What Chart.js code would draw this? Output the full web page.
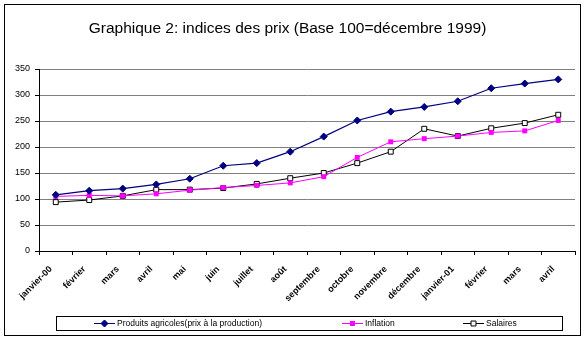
<!DOCTYPE html>
<html lang="fr">
<head>
<meta charset="utf-8">
<title>Graphique 2: indices des prix</title>
<script src="https://cdn.jsdelivr.net/npm/chart.js@4/dist/chart.umd.min.js"></script>
<style>
  html, body { margin: 0; padding: 0; background: #fff; }
  #wrap { width: 585px; height: 340px; }
</style>
</head>
<body>
<div id="wrap"><canvas id="c" width="585" height="340"></canvas></div>
<script>
// Mois (janvier 2000 à avril 2001)
const mois = ['janvier-00', 'février', 'mars', 'avril', 'mai', 'juin', 'juillet', 'août',
  'septembre', 'octobre', 'novembre', 'décembre', 'janvier-01', 'février', 'mars', 'avril'];

// Indices, base 100 = décembre 1999
const produitsAgricoles = [108, 116, 120, 128, 139, 164, 169, 191, 220, 251, 268, 277, 288, 313, 322, 330];
const inflation = [105, 107, 106, 110, 117, 122, 126, 131, 143, 180, 210, 216, 221, 228, 231, 251];
const salaires = [94, 98, 106, 118, 118, 121, 129, 140, 150, 169, 191, 235, 221, 236, 246, 262];

// Graduations de l'axe des valeurs
const yMin = 0, yMax = 350, yPas = 50;

const titre = 'Graphique 2: indices des prix (Base 100=décembre 1999)';
const police = "'Liberation Sans', Arial, sans-serif";

// Fond blanc, cadre extérieur et légende encadrée en bas
const cadrePlugin = {
  id: 'cadre',
  beforeDraw(chart) {
    const ctx = chart.ctx;
    ctx.save();
    ctx.fillStyle = '#fff';
    ctx.fillRect(0, 0, chart.width, chart.height);
    ctx.restore();
  },
  afterDraw(chart) {
    const ctx = chart.ctx;
    ctx.save();
    ctx.strokeStyle = '#000';
    ctx.lineWidth = 1;
    ctx.strokeRect(4.5, 4.5, chart.width - 9, chart.height - 9);

    // boîte de légende
    const bx = 56.5, by = 316.5, bw = 506, bh = 14;
    ctx.strokeRect(bx, by, bw, bh);
    const cy = by + bh / 2;
    const positions = [94, 342, 463];
    ctx.font = '8.5px ' + police;
    ctx.textBaseline = 'middle';
    ctx.textAlign = 'left';
    chart.data.datasets.forEach((ds, i) => {
      const x0 = positions[i], x1 = x0 + 21, xm = (x0 + x1) / 2;
      ctx.strokeStyle = ds.borderColor;
      ctx.lineWidth = 1;
      ctx.beginPath();
      ctx.moveTo(x0, cy);
      ctx.lineTo(x1, cy);
      ctx.stroke();
      const r = ds.pointRadius;
      ctx.fillStyle = ds.pointBackgroundColor;
      ctx.strokeStyle = ds.pointBorderColor;
      ctx.beginPath();
      if (ds.pointStyle === 'rectRot') {
        ctx.moveTo(xm - r, cy);
        ctx.lineTo(xm, cy - r);
        ctx.lineTo(xm + r, cy);
        ctx.lineTo(xm, cy + r);
        ctx.closePath();
      } else {
        const s = r * Math.SQRT1_2;
        ctx.rect(xm - s, cy - s, 2 * s, 2 * s);
      }
      ctx.fill();
      if (ds.pointBorderWidth > 0) ctx.stroke();
      ctx.fillStyle = '#000';
      ctx.fillText(ds.label, x1 + 2, cy + 0.5);
    });
    ctx.restore();
  }
};

new Chart(document.getElementById('c'), {
  type: 'line',
  data: {
    labels: mois,
    datasets: [
      {
        label: 'Produits agricoles(prix à la production)',
        data: produitsAgricoles,
        borderColor: '#000080',
        borderWidth: 1.2,
        pointStyle: 'rectRot',
        pointRadius: 3.5,
        pointBackgroundColor: '#000080',
        pointBorderColor: '#000080',
        pointBorderWidth: 1,
        tension: 0,
        fill: false
      },
      {
        label: 'Inflation',
        data: inflation,
        borderColor: '#ff00ff',
        borderWidth: 1,
        pointStyle: 'rect',
        pointRadius: 3.5,
        pointBackgroundColor: '#ff00ff',
        pointBorderColor: '#ff00ff',
        pointBorderWidth: 0,
        tension: 0,
        fill: false
      },
      {
        label: 'Salaires',
        data: salaires,
        borderColor: '#000000',
        borderWidth: 1,
        pointStyle: 'rect',
        pointRadius: 3.5,
        pointBackgroundColor: '#ffffff',
        pointBorderColor: '#000000',
        pointBorderWidth: 1,
        tension: 0,
        fill: false
      }
    ]
  },
  options: {
    responsive: false,
    animation: false,
    devicePixelRatio: 1,
    events: [],
    layout: { padding: { left: 0, right: 10, top: 0, bottom: 0 } },
    plugins: {
      legend: { display: false },
      tooltip: { enabled: false },
      title: {
        display: true,
        text: titre,
        color: '#000',
        font: { family: police, size: 15.5, weight: 'normal', lineHeight: 1.2 },
        padding: { top: 19, bottom: 31.4 }
      }
    },
    scales: {
      x: {
        offset: true,
        grid: { offset: true, drawOnChartArea: false, drawTicks: true, tickLength: 4, color: '#000', tickColor: '#000' },
        border: { color: '#000', width: 1 },
        ticks: {
          autoSkip: false, maxRotation: 45, minRotation: 45,
          color: '#000', padding: 9, labelOffset: -5,
          font: { family: police, size: 9, weight: 'bold' }
        },
        afterFit(scale) { scale.height = 89; }
      },
      y: {
        min: yMin, max: yMax,
        grid: { color: '#808080', tickColor: '#000', tickLength: 4, lineWidth: 1 },
        border: { color: '#000', width: 1 },
        ticks: {
          stepSize: yPas, color: '#000', padding: 5,
          font: { family: police, size: 9 }
        },
        afterFit(scale) { scale.width = 39; }
      }
    }
  },
  plugins: [cadrePlugin]
});
</script>
</body>
</html>
